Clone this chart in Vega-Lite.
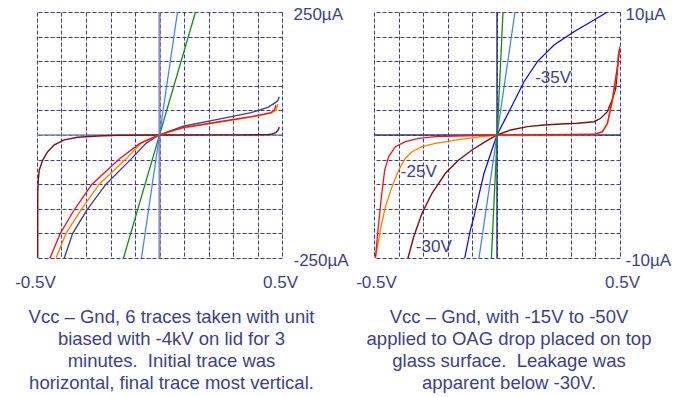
{
  "$schema": "https://vega.github.io/schema/vega-lite/v6.json",
  "background": "white",
  "padding": {"left": 14, "top": 5, "right": 5, "bottom": 5},
  "config": {
    "view": {"stroke": null},
    "font": "Liberation Sans",
    "axis": {"grid": true, "gridColor": "#3d3d8f", "gridDash": [4, 2], "gridWidth": 1, "gridOpacity": 1, "domain": false, "ticks": false, "title": null, "labelFont": "Liberation Sans", "labelFontSize": 17, "labelColor": "#3d3f8a", "labelFlush": false, "labelOverlap": false},
    "title": {"fontSize": 18.5, "font": "Liberation Sans", "fontWeight": "normal", "color": "#3d3f8a", "lineHeight": 22, "orient": "bottom", "anchor": "middle", "frame": "group", "dx": 12, "offset": 18, "baseline": "top"}
  },
  "datasets": {
    "left": [
      {"s": "maroon", "v": -0.497, "i": -250}, {"s": "maroon", "v": -0.4968, "i": -120}, {"s": "maroon", "v": -0.495, "i": -92}, {"s": "maroon", "v": -0.4906, "i": -71}, {"s": "maroon", "v": -0.4767, "i": -51}, {"s": "maroon", "v": -0.4563, "i": -34}, {"s": "maroon", "v": -0.4294, "i": -20}, {"s": "maroon", "v": -0.3886, "i": -10}, {"s": "maroon", "v": -0.3339, "i": -4.7}, {"s": "maroon", "v": -0.2522, "i": -2}, {"s": "maroon", "v": -0.1706, "i": -0.6}, {"s": "maroon", "v": 0, "i": 0}, {"s": "maroon", "v": 0.3, "i": 0.3}, {"s": "maroon", "v": 0.44, "i": 0.8}, {"s": "maroon", "v": 0.46, "i": 2}, {"s": "maroon", "v": 0.475, "i": 5}, {"s": "maroon", "v": 0.483, "i": 9}, {"s": "maroon", "v": 0.489, "i": 16},
      {"s": "navy", "v": -0.3886, "i": -250}, {"s": "navy", "v": -0.3543, "i": -200}, {"s": "navy", "v": -0.296, "i": -152}, {"s": "navy", "v": -0.2184, "i": -100}, {"s": "navy", "v": -0.1163, "i": -49}, {"s": "navy", "v": -0.0551, "i": -17}, {"s": "navy", "v": -0.025, "i": -7}, {"s": "navy", "v": 0, "i": 0}, {"s": "navy", "v": 0.04, "i": 8}, {"s": "navy", "v": 0.1012, "i": 18.3}, {"s": "navy", "v": 0.2376, "i": 31.9}, {"s": "navy", "v": 0.3735, "i": 45.3}, {"s": "navy", "v": 0.4416, "i": 56.3}, {"s": "navy", "v": 0.4686, "i": 64.4}, {"s": "navy", "v": 0.483, "i": 70}, {"s": "navy", "v": 0.489, "i": 77.8},
      {"s": "orange", "v": -0.4224, "i": -250}, {"s": "orange", "v": -0.3816, "i": -200}, {"s": "orange", "v": -0.3204, "i": -152}, {"s": "orange", "v": -0.2457, "i": -100}, {"s": "orange", "v": -0.137, "i": -49}, {"s": "orange", "v": -0.0755, "i": -17}, {"s": "orange", "v": -0.035, "i": -7}, {"s": "orange", "v": 0, "i": 0}, {"s": "orange", "v": 0.04, "i": 6.5}, {"s": "orange", "v": 0.1, "i": 14.8}, {"s": "orange", "v": 0.2376, "i": 25.5}, {"s": "orange", "v": 0.3735, "i": 36.3}, {"s": "orange", "v": 0.455, "i": 44.5}, {"s": "orange", "v": 0.475, "i": 50}, {"s": "orange", "v": 0.4837, "i": 63},
      {"s": "red", "v": -0.4469, "i": -250}, {"s": "red", "v": -0.405, "i": -200}, {"s": "red", "v": -0.3478, "i": -152}, {"s": "red", "v": -0.2755, "i": -100}, {"s": "red", "v": -0.164, "i": -49}, {"s": "red", "v": -0.08, "i": -17}, {"s": "red", "v": -0.04, "i": -8}, {"s": "red", "v": 0, "i": 0}, {"s": "red", "v": 0.04, "i": 7}, {"s": "red", "v": 0.1, "i": 15.6}, {"s": "red", "v": 0.2376, "i": 26.4}, {"s": "red", "v": 0.3735, "i": 37.2}, {"s": "red", "v": 0.455, "i": 45.3}, {"s": "red", "v": 0.47, "i": 52}, {"s": "red", "v": 0.4755, "i": 61},
      {"s": "green", "v": -0.147, "i": -250}, {"s": "green", "v": 0.147, "i": 250},
      {"s": "lightblue", "v": -0.0735, "i": -250}, {"s": "lightblue", "v": 0.0735, "i": 250}
    ],
    "right": [
      {"s": "maroon", "v": -0.3618, "i": -10}, {"s": "maroon", "v": -0.3386, "i": -8.27}, {"s": "maroon", "v": -0.3049, "i": -6.37}, {"s": "maroon", "v": -0.2642, "i": -4.74}, {"s": "maroon", "v": -0.2098, "i": -3.11}, {"s": "maroon", "v": -0.1557, "i": -2.03}, {"s": "maroon", "v": -0.1016, "i": -1.22}, {"s": "maroon", "v": -0.0472, "i": -0.54}, {"s": "maroon", "v": 0, "i": 0}, {"s": "maroon", "v": 0.0557, "i": 0.41}, {"s": "maroon", "v": 0.1236, "i": 0.68}, {"s": "maroon", "v": 0.191, "i": 0.81}, {"s": "maroon", "v": 0.259, "i": 0.89}, {"s": "maroon", "v": 0.3268, "i": 0.95}, {"s": "maroon", "v": 0.3943, "i": 1.08}, {"s": "maroon", "v": 0.4215, "i": 1.36}, {"s": "maroon", "v": 0.4488, "i": 1.9}, {"s": "maroon", "v": 0.4691, "i": 2.9}, {"s": "maroon", "v": 0.4825, "i": 3.8}, {"s": "maroon", "v": 0.4894, "i": 5.15}, {"s": "maroon", "v": 0.4935, "i": 6.5}, {"s": "maroon", "v": 0.5, "i": 7.18},
      {"s": "orange", "v": -0.4943, "i": -10}, {"s": "orange", "v": -0.474, "i": -7.72}, {"s": "orange", "v": -0.4537, "i": -5.83}, {"s": "orange", "v": -0.4268, "i": -4.2}, {"s": "orange", "v": -0.3996, "i": -2.85}, {"s": "orange", "v": -0.3724, "i": -1.89}, {"s": "orange", "v": -0.3455, "i": -1.36}, {"s": "orange", "v": -0.3049, "i": -0.95}, {"s": "orange", "v": -0.2504, "i": -0.68}, {"s": "orange", "v": -0.1691, "i": -0.41}, {"s": "orange", "v": -0.0878, "i": -0.19}, {"s": "orange", "v": 0, "i": 0}, {"s": "orange", "v": 0.2, "i": 0.01}, {"s": "orange", "v": 0.3943, "i": 0.04}, {"s": "orange", "v": 0.4284, "i": 0.25}, {"s": "orange", "v": 0.4488, "i": 0.9}, {"s": "orange", "v": 0.4691, "i": 2.8}, {"s": "orange", "v": 0.4894, "i": 5.5}, {"s": "orange", "v": 0.5, "i": 7.18},
      {"s": "red", "v": -0.4943, "i": -10}, {"s": "red", "v": -0.4837, "i": -7.72}, {"s": "red", "v": -0.4699, "i": -5.02}, {"s": "red", "v": -0.4565, "i": -2.85}, {"s": "red", "v": -0.4402, "i": -1.76}, {"s": "red", "v": -0.413, "i": -0.95}, {"s": "red", "v": -0.3724, "i": -0.54}, {"s": "red", "v": -0.3183, "i": -0.27}, {"s": "red", "v": -0.2504, "i": -0.14}, {"s": "red", "v": -0.1691, "i": -0.08}, {"s": "red", "v": 0, "i": 0}, {"s": "red", "v": 0.2, "i": 0.02}, {"s": "red", "v": 0.3943, "i": 0.06}, {"s": "red", "v": 0.4284, "i": 0.27}, {"s": "red", "v": 0.4488, "i": 0.95}, {"s": "red", "v": 0.4691, "i": 2.85}, {"s": "red", "v": 0.4894, "i": 5.55}, {"s": "red", "v": 0.5, "i": 7.18},
      {"s": "blue", "v": -0.1313, "i": -10}, {"s": "blue", "v": -0.1081, "i": -7.72}, {"s": "blue", "v": -0.0935, "i": -6.64}, {"s": "blue", "v": -0.0813, "i": -5.55}, {"s": "blue", "v": -0.0528, "i": -3.11}, {"s": "blue", "v": 0, "i": 0}, {"s": "blue", "v": 0.0557, "i": 2.17}, {"s": "blue", "v": 0.1098, "i": 4.33}, {"s": "blue", "v": 0.1642, "i": 5.96}, {"s": "blue", "v": 0.2317, "i": 7.32}, {"s": "blue", "v": 0.313, "i": 8.4}, {"s": "blue", "v": 0.3943, "i": 9.35}, {"s": "blue", "v": 0.4488, "i": 10},
      {"s": "lightblue", "v": -0.0732, "i": -10}, {"s": "lightblue", "v": 0.0732, "i": 10},
      {"s": "green", "v": -0.0228, "i": -10}, {"s": "green", "v": 0.0244, "i": 10}
    ],
    "rlabels": [
      {"t": "-35V", "v": 0.155, "i": 4.6},
      {"t": "-25V", "v": -0.391, "i": -3.0},
      {"t": "-30V", "v": -0.33, "i": -9.1}
    ]
  },
  "spacing": 92,
  "bounds": "flush",
  "hconcat": [
    {
      "width": 245,
      "height": 246,
      "title": {"text": ["Vᴄᴄ – Gnd, 6 traces taken with unit", "biased with -4kV on lid for 3", "minutes. \u00a0Initial trace was", "horizontal, final trace most vertical."]},
      "layer": [
        {
          "data": {"values": [{}]},
          "mark": {"type": "rule", "color": "#8a8dc0", "strokeWidth": 2.2},
          "encoding": {"x": {"datum": 0, "type": "quantitative",
                  "axis": {"values": [-0.5, -0.4, -0.3, -0.2, -0.1, 0, 0.1, 0.2, 0.3, 0.4, 0.5], "labelExpr": "datum.value == -0.5 ? '-0.5V' : (datum.value == 0.5 ? '0.5V' : '')", "labelPadding": 16, "labelOffset": -2}}}
        },
        {
          "data": {"values": [{}]},
          "mark": {"type": "rule", "color": "#7e81b8", "strokeWidth": 1.5},
          "encoding": {"y": {"datum": 0, "type": "quantitative",
                  "axis": {"orient": "right", "values": [-250, -200, -150, -100, -50, 0, 50, 100, 150, 200, 250], "labelExpr": "datum.value == 250 ? '250µA' : (datum.value == -250 ? '-250µA' : '')", "labelPadding": 11, "labelOffset": 2, "labelAlign": "left", "labelBaseline": "middle"}}}
        },
        {
          "data": {"name": "left"},
          "mark": {"type": "line", "clip": true},
          "encoding": {
            "x": {"field": "v", "type": "quantitative", "scale": {"domain": [-0.5, 0.5], "nice": false, "zero": false},
                  "axis": {"values": [-0.5, -0.4, -0.3, -0.2, -0.1, 0, 0.1, 0.2, 0.3, 0.4, 0.5], "labelExpr": "datum.value == -0.5 ? '-0.5V' : (datum.value == 0.5 ? '0.5V' : '')", "labelPadding": 16, "labelOffset": -2}},
            "y": {"field": "i", "type": "quantitative", "scale": {"domain": [-250, 250], "nice": false, "zero": false},
                  "axis": {"orient": "right", "values": [-250, -200, -150, -100, -50, 0, 50, 100, 150, 200, 250], "labelExpr": "datum.value == 250 ? '250µA' : (datum.value == -250 ? '-250µA' : '')", "labelPadding": 11, "labelOffset": 2, "labelAlign": "left", "labelBaseline": "middle"}},
            "color": {"field": "s", "type": "nominal", "legend": null, "scale": {"domain": ["maroon", "navy", "orange", "red", "green", "lightblue", "blue"], "range": ["#7f0f0f", "#404090", "#ff8000", "#ff1010", "#118a11", "#3f7fff", "#0000ff"]}},
            "strokeWidth": {"field": "s", "type": "nominal", "legend": null, "scale": {"domain": ["maroon", "navy", "orange", "red", "green", "lightblue", "blue"], "range": [1.4, 1.2, 1.3, 1.9, 1.3, 1.3, 1.3]}},
            "order": {"value": null}
          }
        }
      ]
    },
    {
      "width": 246,
      "height": 246,
      "title": {"text": ["Vᴄᴄ – Gnd, with -15V to -50V", "applied to OAG drop placed on top", "glass surface. \u00a0Leakage was", "apparent below -30V."]},
      "layer": [
        {
          "data": {"values": [{}]},
          "mark": {"type": "rule", "color": "#35378a", "strokeWidth": 1.5},
          "encoding": {"x": {"datum": 0, "type": "quantitative",
                  "axis": {"values": [-0.5, -0.4, -0.3, -0.2, -0.1, 0, 0.1, 0.2, 0.3, 0.4, 0.5], "labelExpr": "datum.value == -0.5 ? '-0.5V' : (datum.value == 0.5 ? '0.5V' : '')", "labelPadding": 16, "labelOffset": 2}}}
        },
        {
          "data": {"values": [{}]},
          "mark": {"type": "rule", "color": "#35378a", "strokeWidth": 1.5},
          "encoding": {"y": {"datum": 0, "type": "quantitative",
                  "axis": {"orient": "right", "values": [-10, -8, -6, -4, -2, 0, 2, 4, 6, 8, 10], "labelExpr": "datum.value == 10 ? '10µA' : (datum.value == -10 ? '-10µA' : '')", "labelPadding": 5, "labelOffset": 2, "labelAlign": "left", "labelBaseline": "middle"}}}
        },
        {
          "data": {"name": "right"},
          "mark": {"type": "line", "clip": true},
          "encoding": {
            "x": {"field": "v", "type": "quantitative", "scale": {"domain": [-0.5, 0.5], "nice": false, "zero": false},
                  "axis": {"values": [-0.5, -0.4, -0.3, -0.2, -0.1, 0, 0.1, 0.2, 0.3, 0.4, 0.5], "labelExpr": "datum.value == -0.5 ? '-0.5V' : (datum.value == 0.5 ? '0.5V' : '')", "labelPadding": 16, "labelOffset": 2}},
            "y": {"field": "i", "type": "quantitative", "scale": {"domain": [-10, 10], "nice": false, "zero": false},
                  "axis": {"orient": "right", "values": [-10, -8, -6, -4, -2, 0, 2, 4, 6, 8, 10], "labelExpr": "datum.value == 10 ? '10µA' : (datum.value == -10 ? '-10µA' : '')", "labelPadding": 5, "labelOffset": 2, "labelAlign": "left", "labelBaseline": "middle"}},
            "color": {"field": "s", "type": "nominal", "legend": null, "scale": {"domain": ["maroon", "navy", "orange", "red", "green", "lightblue", "blue"], "range": ["#7f0f0f", "#404090", "#ff8000", "#ff1010", "#118a11", "#3f7fff", "#0000ff"]}},
            "strokeWidth": {"field": "s", "type": "nominal", "legend": null, "scale": {"domain": ["maroon", "navy", "orange", "red", "green", "lightblue", "blue"], "range": [1.4, 1.2, 1.3, 1.9, 1.3, 1.3, 1.3]}},
            "order": {"value": null}
          }
        },
        {
          "data": {"name": "rlabels"},
          "mark": {"type": "text", "align": "left", "baseline": "middle", "fontSize": 17, "font": "Liberation Sans", "color": "#3d3f8a"},
          "encoding": {
            "x": {"field": "v", "type": "quantitative",
                  "axis": {"values": [-0.5, -0.4, -0.3, -0.2, -0.1, 0, 0.1, 0.2, 0.3, 0.4, 0.5], "labelExpr": "datum.value == -0.5 ? '-0.5V' : (datum.value == 0.5 ? '0.5V' : '')", "labelPadding": 16, "labelOffset": 2}},
            "y": {"field": "i", "type": "quantitative",
                  "axis": {"orient": "right", "values": [-10, -8, -6, -4, -2, 0, 2, 4, 6, 8, 10], "labelExpr": "datum.value == 10 ? '10µA' : (datum.value == -10 ? '-10µA' : '')", "labelPadding": 5, "labelOffset": 2, "labelAlign": "left", "labelBaseline": "middle"}},
            "text": {"field": "t"}
          }
        }
      ]
    }
  ]
}
